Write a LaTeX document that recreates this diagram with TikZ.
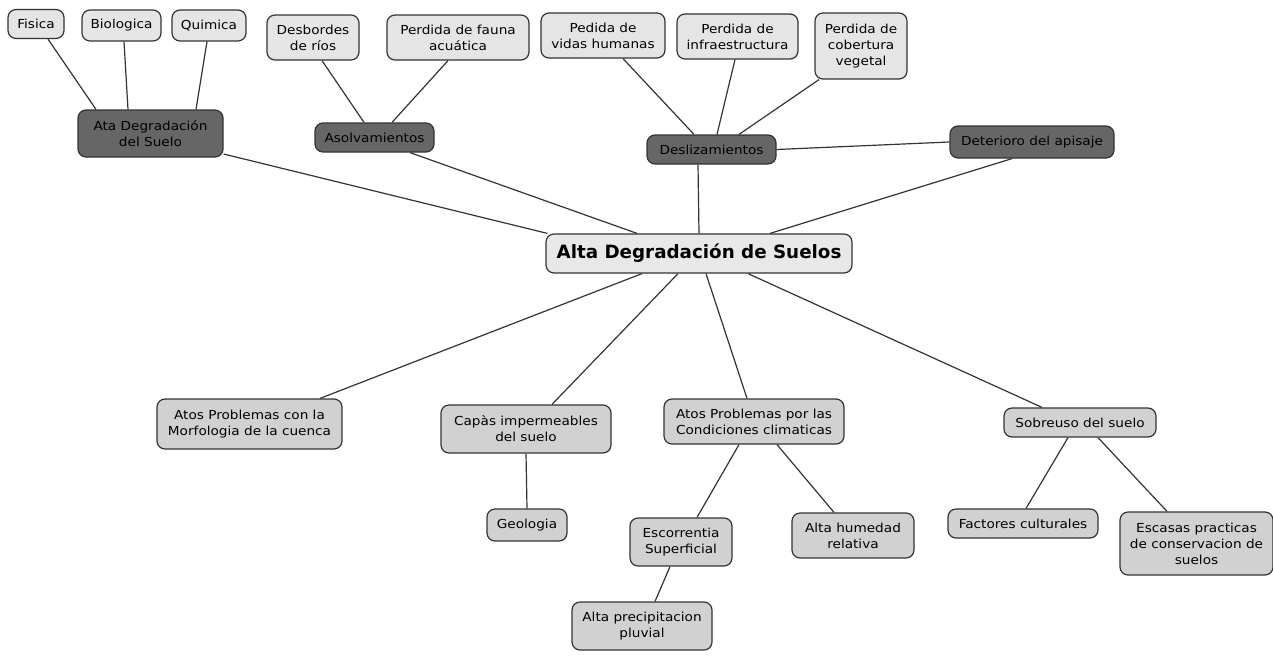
\documentclass[tikz,border=0pt]{standalone}
\usepackage{fontspec}
\setmainfont[FakeStretch=1.1]{DejaVu Sans}
\newfontfamily\headfont{DejaVu Sans}
\begin{document}
\begin{tikzpicture}[x=1pt,y=-1pt,
  box/.style={draw=black!80, line width=1.2pt, rounded corners=8pt, align=center,
    inner sep=0pt, text=black, font=\fontsize{12.4}{16}\selectfont},
  lite/.style={box, fill=black!10},
  darkbox/.style={box, fill=black!60},
  lowbox/.style={box, fill=black!18},
  mainbox/.style={box, fill=black!9, font=\headfont\bfseries\fontsize{18.3}{22}\selectfont},
  sz/.style 2 args={minimum width=#1, minimum height=#2},
  link/.style={draw=black!80, line width=1.2pt}]
\useasboundingbox (0,0) rectangle (1273,656);

% upper level
\node[lite, sz={56}{29}] (fis) at (36,24) {Fisica};
\node[lite, sz={79}{31}] (bio) at (121.5,25.5) {Biologica};
\node[lite, sz={74}{31}] (qui) at (209,25.5) {Quimica};
\node[darkbox, sz={145}{47}] (ata) at (150.5,133.5) {Ata Degradación\\del Suelo};
\node[lite, sz={92}{45}] (desb) at (313,37.5) {Desbordes\\de ríos};
\node[lite, sz={142}{45}] (fau) at (458,37.5) {Perdida de fauna\\acuática};
\node[darkbox, sz={119}{29}] (aso) at (374.5,137.5) {Asolvamientos};
\node[lite, sz={124}{45}] (vid) at (603,35.5) {Pedida de\\vidas humanas};
\node[lite, sz={121}{45}] (inf) at (737.5,36.5) {Perdida de\\infraestructura};
\node[lite, sz={92}{66}] (cob) at (861,46) {Perdida de\\cobertura\\vegetal};
\node[darkbox, sz={129}{29}] (desl) at (711.5,149.5) {Deslizamientos};
\node[darkbox, sz={164}{32}] (det) at (1032,142) {Deterioro del apisaje};

% central concept
\node[mainbox, sz={306}{39}] (ctr) at (699,253.5) {Alta Degradación de Suelos};

% lower level
\node[lowbox, sz={185}{50}] (mor) at (249.5,424) {Atos Problemas con la\\Morfologia de la cuenca};
\node[lowbox, sz={170}{48}] (cap) at (526,429) {Capàs impermeables\\del suelo};
\node[lowbox, sz={80}{32}] (geo) at (527,525) {Geologia};
\node[lowbox, sz={180}{45}] (cli) at (754,421.5) {Atos Problemas por las\\Condiciones climaticas};
\node[lowbox, sz={102}{48}] (esc) at (681,542) {Escorrentia\\Superficial};
\node[lowbox, sz={122}{45}] (hum) at (853,535.5) {Alta humedad\\relativa};
\node[lowbox, sz={140}{48}] (pre) at (642,626) {Alta precipitacion\\pluvial};
\node[lowbox, sz={152}{29}] (sob) at (1080,422.5) {Sobreuso del suelo};
\node[lowbox, sz={150}{29}] (fac) at (1023,523.5) {Factores culturales};
\node[lowbox, sz={153}{63}] (esa) at (1196.5,543.5) {Escasas practicas\\de conservacion de\\suelos};

% connectors
\path[link] ([xshift=12]fis.south) -- ([xshift=-54.5]ata.north);
\path[link] ([xshift=2.5]bio.south) -- ([xshift=-22.5]ata.north);
\path[link] ([xshift=-2]qui.south) -- ([xshift=45.5]ata.north);
\path[link] ([yshift=-20.5]ata.east) -- ([xshift=2]ctr.north west);
\path[link] ([xshift=9]desb.south) -- ([xshift=-10.5]aso.north);
\path[link] ([xshift=-10]fau.south) -- ([xshift=17.5]aso.north);
\path[link] ([xshift=35.5]aso.south) -- ([xshift=-62]ctr.north);
\path[link] ([xshift=20]vid.south) -- ([xshift=-17.5]desl.north);
\path[link] ([xshift=-2.5]inf.south) -- ([xshift=5.5]desl.north);
\path[link] ([xshift=-42]cob.south) -- ([xshift=27.5]desl.north);
\path[link] ([xshift=-13.5]desl.south) -- (ctr.north);
\path[link] (desl.east) -- (det.west);
\path[link] ([xshift=-20]det.south) -- ([xshift=71]ctr.north);
\path[link] ([xshift=-57]ctr.south) -- ([xshift=70.5]mor.north);
\path[link] ([xshift=-21]ctr.south) -- ([xshift=26]cap.north);
\path[link] ([xshift=7]ctr.south) -- ([xshift=-7]cli.north);
\path[link] ([xshift=49]ctr.south) -- ([xshift=-38]sob.north);
\path[link] (cap.south) -- (geo.north);
\path[link] ([xshift=-15]cli.south) -- ([xshift=16]esc.north);
\path[link] ([xshift=23]cli.south) -- ([xshift=-19]hum.north);
\path[link] ([xshift=-11]esc.south) -- ([xshift=13]pre.north);
\path[link] ([xshift=-12]sob.south) -- ([xshift=3]fac.north);
\path[link] ([xshift=18]sob.south) -- ([xshift=-29.5]esa.north);
\end{tikzpicture}
\end{document}
